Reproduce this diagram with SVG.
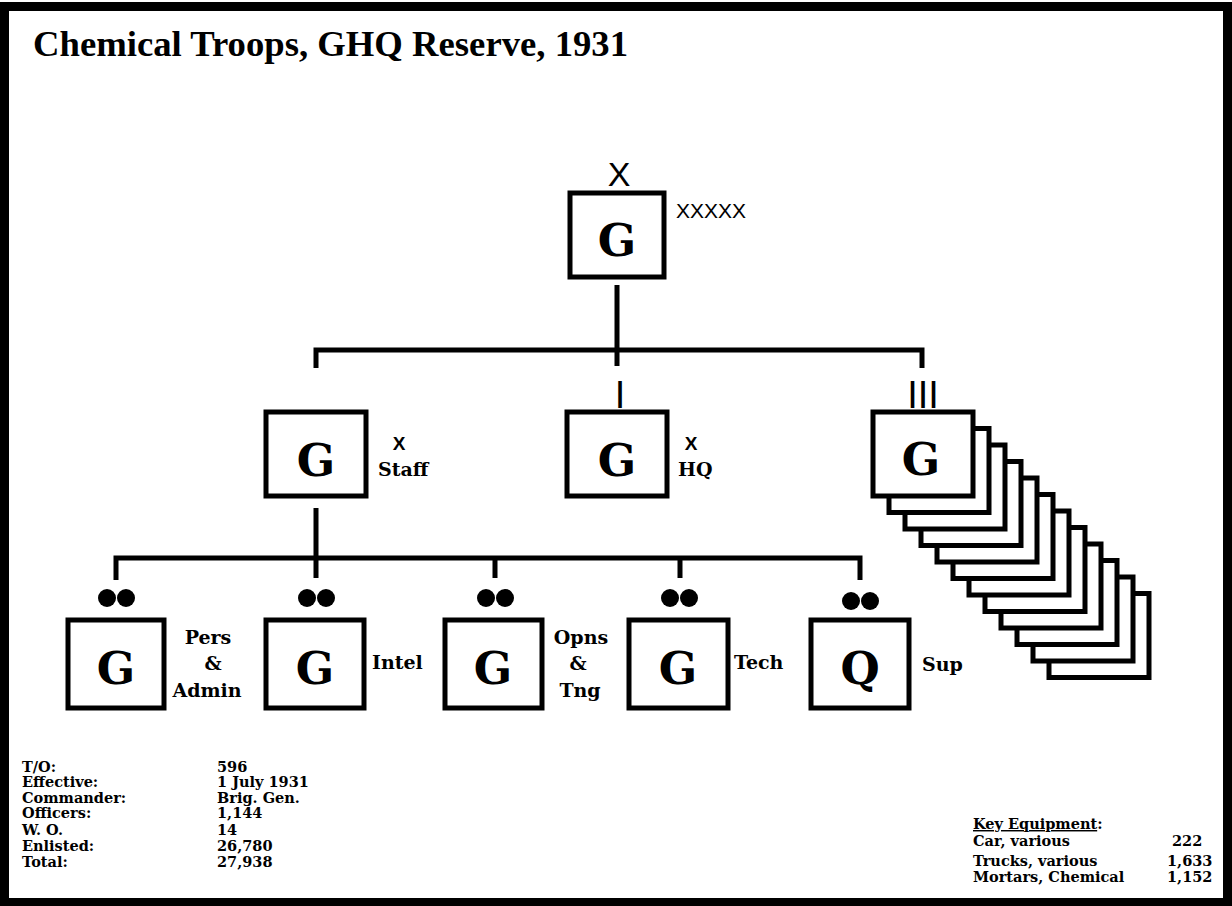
<svg xmlns="http://www.w3.org/2000/svg" width="1232" height="906" viewBox="0 0 1232 906">
<style>
.box{fill:#fff;stroke:#000;stroke-width:5}
.ln{fill:none;stroke:#000;stroke-width:5}
.g{font-family:"DejaVu Serif","Liberation Serif",serif;font-weight:bold;font-size:45px;text-anchor:middle}
.lbl{font-family:"DejaVu Serif","Liberation Serif",serif;font-weight:bold;font-size:19px}
.sym{font-family:"Liberation Sans",Arial,sans-serif}
.tbl{font-family:"DejaVu Serif","Liberation Serif",serif;font-weight:bold;font-size:14.5px}
.ttl{font-family:"Liberation Serif","DejaVu Serif",serif;font-weight:bold;font-size:35px}
</style>
<rect x="0" y="0" width="1232" height="906" fill="#fff"/>
<rect x="4.5" y="6.5" width="1223" height="896" fill="none" stroke="#000" stroke-width="9"/>
<text class="ttl" x="33" y="56" textLength="595" lengthAdjust="spacingAndGlyphs">Chemical Troops, GHQ Reserve, 1931</text>

<g id="connectors">
<path class="ln" d="M617,285 V366 M316,368 V350 H922 V368"/>
<path class="ln" d="M316,508 V578 M116,580 V558 H860 V580 M495,558 V578 M680,558 V578"/>
</g>

<g id="node-top">
<text class="sym" x="619" y="186" font-size="34" text-anchor="middle">X</text>
<rect class="box" x="570" y="193" width="94" height="84"/>
<text class="g" x="617" y="256">G</text>
<text class="sym" x="676" y="218" font-size="21">XXXXX</text>
</g>

<g id="node-staff">
<rect class="box" x="266" y="412" width="100" height="84"/>
<text class="g" x="316" y="476">G</text>
<text class="sym" x="399" y="450" font-size="19" font-weight="bold" text-anchor="middle">X</text>
<text class="lbl" x="378" y="476">Staff</text>
</g>

<g id="node-hq">
<text class="sym" x="620" y="408" font-size="38" text-anchor="middle">I</text>
<rect class="box" x="567" y="412" width="100" height="84"/>
<text class="g" x="617" y="476">G</text>
<text class="sym" x="691" y="450" font-size="19" font-weight="bold" text-anchor="middle">X</text>
<text class="lbl" x="678" y="476">HQ</text>
</g>

<g id="node-regiments">
<text class="sym" x="923" y="408" font-size="38" text-anchor="middle">III</text>
<rect class="box" x="1049" y="593.5" width="100" height="84"/>
<rect class="box" x="1033" y="577" width="100" height="84"/>
<rect class="box" x="1017" y="560.5" width="100" height="84"/>
<rect class="box" x="1001" y="544" width="100" height="84"/>
<rect class="box" x="985" y="527.5" width="100" height="84"/>
<rect class="box" x="969" y="511" width="100" height="84"/>
<rect class="box" x="953" y="494.5" width="100" height="84"/>
<rect class="box" x="937" y="478" width="100" height="84"/>
<rect class="box" x="921" y="461.5" width="100" height="84"/>
<rect class="box" x="905" y="445" width="100" height="84"/>
<rect class="box" x="889" y="428.5" width="100" height="84"/>
<rect class="box" x="873" y="412" width="100" height="84"/>
<text class="g" x="921" y="475">G</text>
</g>

<g id="node-pers">
<circle cx="107" cy="598" r="9"/><circle cx="126" cy="598" r="9"/>
<rect class="box" x="68" y="620" width="96" height="88"/>
<text class="g" x="116" y="684">G</text>
<text class="lbl" x="208" y="644" text-anchor="middle">Pers</text>
<text class="lbl" x="213" y="670" text-anchor="middle">&amp;</text>
<text class="lbl" x="207" y="697" text-anchor="middle">Admin</text>
</g>

<g id="node-intel">
<circle cx="307" cy="598" r="9"/><circle cx="326" cy="598" r="9"/>
<rect class="box" x="266" y="620" width="98" height="88"/>
<text class="g" x="315" y="684">G</text>
<text class="lbl" x="372" y="669">Intel</text>
</g>

<g id="node-opns">
<circle cx="486" cy="598" r="9"/><circle cx="505" cy="598" r="9"/>
<rect class="box" x="445" y="620" width="97" height="88"/>
<text class="g" x="493" y="684">G</text>
<text class="lbl" x="581" y="644" text-anchor="middle">Opns</text>
<text class="lbl" x="578" y="670" text-anchor="middle">&amp;</text>
<text class="lbl" x="580" y="697" text-anchor="middle">Tng</text>
</g>

<g id="node-tech">
<circle cx="670" cy="598" r="9"/><circle cx="689" cy="598" r="9"/>
<rect class="box" x="629" y="620" width="99" height="88"/>
<text class="g" x="678" y="684">G</text>
<text class="lbl" x="734" y="669">Tech</text>
</g>

<g id="node-sup">
<circle cx="851" cy="601" r="9"/><circle cx="870" cy="601" r="9"/>
<rect class="box" x="811" y="620" width="98" height="88"/>
<text class="g" x="860" y="684">Q</text>
<text class="lbl" x="922" y="671">Sup</text>
</g>

<g id="stats" class="tbl">
<text x="22" y="772">T/O:</text><text x="217" y="772">596</text>
<text x="22" y="787">Effective:</text><text x="217" y="787">1 July 1931</text>
<text x="22" y="803">Commander:</text><text x="217" y="803">Brig. Gen.</text>
<text x="22" y="818">Officers:</text><text x="217" y="818">1,144</text>
<text x="22" y="835">W. O.</text><text x="217" y="835">14</text>
<text x="22" y="851">Enlisted:</text><text x="217" y="851">26,780</text>
<text x="22" y="867">Total:</text><text x="217" y="867">27,938</text>
</g>

<g id="equipment" class="tbl">
<text x="973" y="829"><tspan text-decoration="underline">Key Equipment</tspan>:</text>
<text x="973" y="846">Car, various</text><text x="1172" y="846">222</text>
<text x="973" y="866">Trucks, various</text><text x="1167" y="866">1,633</text>
<text x="973" y="882">Mortars, Chemical</text><text x="1167" y="882">1,152</text>
</g>
</svg>
